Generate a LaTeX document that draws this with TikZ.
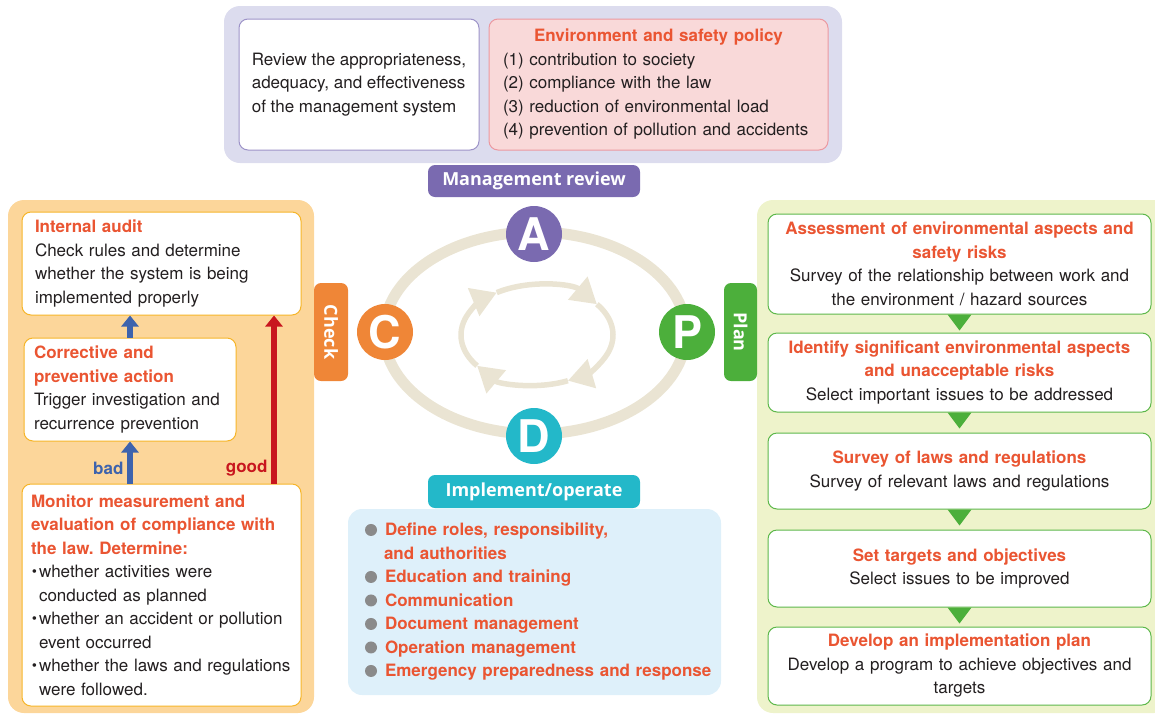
\documentclass[tikz,border=0pt]{standalone}
\usepackage{fontspec}
\setmainfont{TeX Gyre Heros}
\newfontfamily\tagfont{Open Sans}
\usetikzlibrary{arrows.meta}

\definecolor{ink}{HTML}{231F20}
\definecolor{headred}{HTML}{EA5532}
\definecolor{lavbg}{HTML}{DCDCEE}
\definecolor{lavline}{HTML}{9D93C8}
\definecolor{pinkbg}{HTML}{F9D9D9}
\definecolor{pinkline}{HTML}{EC98A0}
\definecolor{reviewpurple}{HTML}{7A6AB0}
\definecolor{checkbg}{HTML}{FCD69A}
\definecolor{checkorange}{HTML}{EF8637}
\definecolor{auditline}{HTML}{F6B528}
\definecolor{planbg}{HTML}{EEF3CB}
\definecolor{plangreen}{HTML}{4CAF3B}
\definecolor{planline}{HTML}{5DB84A}
\definecolor{doteal}{HTML}{23B8C9}
\definecolor{dobg}{HTML}{DEF0FA}
\definecolor{ringbeige}{HTML}{EAE4D3}
\definecolor{badblue}{HTML}{3D63AD}
\definecolor{goodred}{HTML}{C8161E}
\definecolor{bulletgray}{HTML}{8A8A8A}

\newcommand{\hd}[1]{{\bfseries\color{headred}#1}}
\newcommand{\dotpt}{\makebox[8pt][l]{\fontsize{24}{17}\selectfont\bfseries ·}}
\newcommand{\ball}[1]{\hspace*{6.5pt}\makebox[20pt][l]{\tikz[baseline=-6pt]\fill[bulletgray] (6pt,0pt) circle (6pt);}\mbox{#1}}

\begin{document}
\begin{tikzpicture}[x=1pt,y=-1pt,
    txt/.style={font=\fontsize{17}{23.5}\selectfont, text=ink},
    card/.style={txt, draw, fill=white, rounded corners=9pt, line width=1pt},
    tag/.style={rounded corners=7pt, text=white, inner sep=0pt, font=\tagfont\bfseries\fontsize{18}{18}\selectfont},
    phase/.style={circle, minimum size=56pt, inner sep=0pt, text=white, font=\bfseries\fontsize{45}{45}\selectfont},
    upline/.style={line width=6.5pt, -{Triangle[length=11pt,width=17pt]}},
    ring/.style={ringbeige, line width=11pt}]
    \useasboundingbox (0,0) rectangle (1155,715);

    % Management review (top)
    \fill[lavbg, rounded corners=16pt] (224,6) rectangle (842,163);
    \node[card, draw=lavline, minimum width=240pt, minimum height=131pt, align=left] (reviewtext) at (359,84.5)
        {Review the appropriateness,\\adequacy, and effectiveness\\of the management system};
    \node[card, draw=pinkline, fill=pinkbg, minimum height=131pt, text width=311pt, inner xsep=14pt, align=left] (policy) at (658.5,84.5)
        {\makebox[\linewidth]{\hd{Environment and safety policy}}\\(1) contribution to society\\(2) compliance with the law\\(3) reduction of environmental load\\(4) prevention of pollution and accidents};
    \node[tag, fill=reviewpurple, minimum width=212pt, minimum height=32pt] (mreview) at (534,181) {Management review};

    % PDCA ring
    \draw[ring] (535,333) ellipse [x radius=151, y radius=101];
    \foreach \a/\b in {142/238,238/322,322/426,426/502}
        \draw[ringbeige, line width=5.5pt, -{Triangle[length=25pt,width=29pt]}] (537,335) ++(\a:76 and 50) arc[start angle=\a, end angle=\b, x radius=76, y radius=50];
    \node[phase, fill=reviewpurple] (A) at (534,234) {A};
    \node[phase, fill=checkorange] (C) at (385,332) {C};
    \node[phase, fill=plangreen] (P) at (687,332) {P};
    \node[phase, fill=doteal] (D) at (534,436) {D};

    % Check (left)
    \fill[checkbg, rounded corners=16pt] (8,200) rectangle (314,713);
    \node[tag, fill=checkorange, rotate=-90, minimum width=98pt, minimum height=34pt] (checktab) at (331,332) {Check};
    \node[card, draw=auditline, minimum height=103pt, text width=253pt, inner xsep=13pt, align=left] (audit) at (161.5,263.5)
        {\hd{Internal audit}\\Check rules and determine\\whether the system is being\\implemented properly};
    \node[card, draw=auditline, minimum height=103pt, text width=192pt, inner xsep=10pt, align=left] (correct) at (130,389.5)
        {\hd{Corrective and}\\\hd{preventive action}\\Trigger investigation and\\recurrence prevention};
    \node[card, draw=auditline, minimum height=222pt, text width=261pt, inner xsep=9pt, align=left] (monitor) at (161.5,595)
        {\hd{Monitor measurement and}\\\hd{evaluation of compliance with}\\\hd{the law.\ Determine:}\\
         \dotpt whether activities were\\\hspace*{8pt}conducted as planned\\
         \dotpt whether an accident or pollution\\\hspace*{8pt}event occurred\\
         \dotpt whether the laws and regulations\\\hspace*{8pt}were followed.};
    \coordinate (goodx) at (274,0);
    \draw[upline, badblue] (monitor.north -| correct.south) -- node[left, pos=0.35, txt, text=badblue, font=\fontsize{17}{20}\selectfont\bfseries] {bad} (correct.south);
    \draw[upline, badblue] (correct.north) -- (audit.south -| correct.north);
    \draw[upline, goodred] (monitor.north -| goodx) -- node[left, pos=0.09, txt, text=goodred, font=\fontsize{17}{20}\selectfont\bfseries] {good} (audit.south -| goodx);

    % Plan (right)
    \fill[planbg, rounded corners=16pt] (757,200) rectangle (1170,713);
    \node[tag, fill=plangreen, rotate=-90, minimum width=98pt, minimum height=33pt] (plantab) at (740.5,332) {Plan};
    \tikzset{planbox/.style={card, draw=planline, text width=363pt, inner xsep=10pt, align=center}}
    \node[planbox, minimum height=100pt] (p1) at (959.5,264)
        {\hd{Assessment of environmental aspects and}\\\hd{safety risks}\\Survey of the relationship between work and\\the environment / hazard sources};
    \node[planbox, minimum height=79pt] (p2) at (959.5,372.5)
        {\hd{Identify significant environmental aspects}\\\hd{and unacceptable risks}\\Select important issues to be addressed};
    \node[planbox, minimum height=76pt] (p3) at (959.5,471)
        {\hd{Survey of laws and regulations}\\Survey of relevant laws and regulations};
    \node[planbox, minimum height=77pt] (p4) at (959.5,568.5)
        {\hd{Set targets and objectives}\\Select issues to be improved};
    \node[planbox, minimum height=78pt] (p5) at (959.5,666)
        {\hd{Develop an implementation plan}\\Develop a program to achieve objectives and\\targets};
    \foreach \s in {p1,p2,p3,p4}
        \fill[plangreen] (\s.south) ++(-12,0) -- ++(24,0) -- ++(-12,16) -- cycle;

    % Do (bottom)
    \node[tag, fill=doteal, minimum width=212pt, minimum height=33pt] (impltag) at (534,491.5) {Implement/operate};
    \node[txt, fill=dobg, rounded corners=14pt, minimum width=373pt, minimum height=186pt, text width=352pt, inner xsep=10.5pt, align=left,
          text=headred, font=\fontsize{17}{23.5}\selectfont\bfseries] (impl) at (534.5,602)
        {\ball{Define roles, responsibility,}\\\hspace*{25.5pt}and authorities\\\ball{Education and training}\\\ball{Communication}\\
         \ball{Document management}\\\ball{Operation management}\\\ball{Emergency preparedness and response}};
\end{tikzpicture}
\end{document}
